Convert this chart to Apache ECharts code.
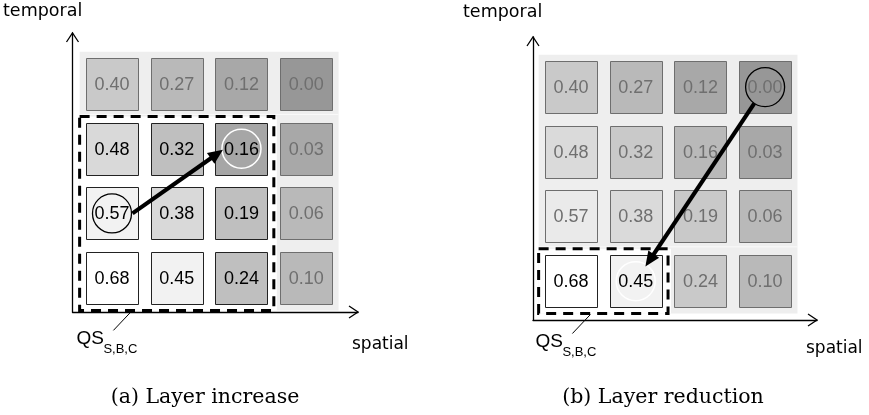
<!DOCTYPE html>
<html>
<head>
<meta charset="utf-8">
<script src="https://cdn.jsdelivr.net/npm/echarts@6/dist/echarts.min.js"></script>
<style>
  html, body { margin: 0; padding: 0; background: #fff; }
  #chart { width: 869px; height: 415px; }
</style>
</head>
<body>
<div id="chart"></div>
<script>
// QS values, row 0 = bottom row (lowest temporal layer), col 0 = leftmost (lowest spatial layer)
var qsRow0 = [0.68, 0.45, 0.24, 0.10];
var qsRow1 = [0.57, 0.38, 0.19, 0.06];
var qsRow2 = [0.48, 0.32, 0.16, 0.03];
var qsRow3 = [0.40, 0.27, 0.12, 0.00];
var qsGrid = [qsRow0, qsRow1, qsRow2, qsRow3];

// the selected (active) block of each panel: number of columns / rows from the origin
var activeA = [3, 3];
var activeB = [2, 1];
// arrow: from cell -> to cell  [col, row]
var moveA = [[0, 1], [2, 2]];
var moveB = [[3, 3], [1, 0]];

var axisTitleY = 'temporal';
var axisTitleX = 'spatial';
var captions = ['(a) Layer increase', '(b) Layer reduction'];

// grey shading (style only): level index per cell, same layout as qsGrid
var shadeLevels = [255, 242, 217, 191, 166, 140, 115];
var shadeIndex = [
    [0, 1, 3, 4],
    [1, 2, 3, 4],
    [2, 3, 4, 5],
    [3, 4, 5, 6]
];

var cellData = [];
qsGrid.forEach(function (row, r) {
    row.forEach(function (v, c) {
        cellData.push([c, r, v]);
    });
});

function grey(g) {
    g = Math.round(g);
    return 'rgb(' + g + ',' + g + ',' + g + ')';
}

var panels = [
    { active: activeA, move: moveA, arrowMode: 'side',   xr: [-0.61, 3.80], yr: [-0.525, 3.79] },
    { active: activeB, move: moveB, arrowMode: 'center', xr: [-0.587, 3.802], yr: [-0.60, 3.774] }
];

function cellRender(panel) {
    return function (params, api) {
        var c = api.value(0), r = api.value(1), v = api.value(2);
        var p = api.coord([c, r]);
        var s = api.size([1, 1]);
        var w = s[0] * 0.805, h = s[1] * 0.805;
        var on = c < panel.active[0] && r < panel.active[1];
        var g = shadeLevels[shadeIndex[r][c]];
        var fill = on ? grey(g) : grey(0.65 * g + 0.35 * 219);
        return {
            type: 'group',
            children: [
                {
                    type: 'rect',
                    shape: { x: Math.round(p[0] - w / 2) + 0.5, y: Math.round(p[1] - h / 2) + 0.5, width: Math.round(w), height: Math.round(h) },
                    style: { fill: fill, stroke: on ? '#222' : '#6e6e6e', lineWidth: 1 }
                },
                {
                    type: 'text',
                    style: {
                        text: v.toFixed(2), x: p[0], y: p[1] + 1,
                        align: 'center', verticalAlign: 'middle',
                        font: '18px "Liberation Sans", Arial, sans-serif',
                        fill: on ? '#000' : '#6f6f6f'
                    }
                }
            ]
        };
    };
}

function backRender(panel) {
    return function (params, api) {
        var a = api.coord([-0.5, 3.5]);
        var b = api.coord([3.5, -0.5]);
        var w1 = api.coord([-0.5, panel.active[1] - 0.5]);
        var w2 = api.coord([panel.active[0] - 0.5, -0.5]);
        return {
            type: 'group',
            children: [
                { type: 'rect', shape: { x: a[0], y: a[1], width: b[0] - a[0], height: b[1] - a[1] }, style: { fill: '#eeeeee' } },
                { type: 'line', shape: { x1: a[0], y1: w1[1] - 2, x2: b[0], y2: w1[1] - 2 }, style: { stroke: '#fafafa', lineWidth: 1 } },
                { type: 'rect', shape: { x: w1[0], y: w1[1], width: w2[0] - w1[0] + 3, height: w2[1] - w1[1] }, style: { fill: '#ffffff' } }
            ]
        };
    };
}

function overRender(panel) {
    return function (params, api) {
        var kids = [];
        // dashed selection box
        var w1 = api.coord([-0.5, panel.active[1] - 0.5]);
        var w2 = api.coord([panel.active[0] - 0.5, -0.5]);
        kids.push({
            type: 'rect',
            shape: { x: w1[0], y: w1[1], width: w2[0] - w1[0], height: w2[1] - w1[1] },
            style: { fill: 'none', stroke: '#000', lineWidth: 3, lineDash: [10, 7] }
        });
        // rings + arrow
        var ra = 19.5;
        var A = api.coord(panel.move[0]);
        var B = api.coord(panel.move[1]);
        kids.push({ type: 'circle', shape: { cx: A[0], cy: A[1], r: ra }, style: { fill: 'none', stroke: '#000', lineWidth: 1.3 } });
        kids.push({ type: 'circle', shape: { cx: B[0], cy: B[1], r: ra }, style: { fill: 'none', stroke: '#fff', lineWidth: 1.5 } });
        var s, e;
        if (panel.arrowMode === 'side') {
            s = [A[0] + ra + 1, A[1]];
            e = [B[0] - ra + 1, B[1] + 1];
        } else {
            var dx = B[0] - A[0], dy = B[1] - A[1];
            var L = Math.sqrt(dx * dx + dy * dy);
            s = [A[0] + dx / L * ra, A[1] + dy / L * ra];
            e = [B[0] - dx / L * (ra - 2), B[1] - dy / L * (ra - 2)];
        }
        var ux = e[0] - s[0], uy = e[1] - s[1];
        var ul = Math.sqrt(ux * ux + uy * uy);
        ux /= ul; uy /= ul;
        var hl = 15, hw = 6.5;
        var base = [e[0] - ux * hl, e[1] - uy * hl];
        kids.push({ type: 'line', shape: { x1: s[0], y1: s[1], x2: base[0] + ux * 2, y2: base[1] + uy * 2 }, style: { stroke: '#000', lineWidth: 4.2 } });
        kids.push({
            type: 'polygon',
            shape: { points: [e, [base[0] - uy * hw, base[1] + ux * hw], [base[0] + uy * hw, base[1] - ux * hw]] },
            style: { fill: '#000' }
        });
        // axis arrow heads
        var tx = api.coord([panel.xr[1], panel.yr[0]]);
        var ty = api.coord([panel.xr[0], panel.yr[1]]);
        kids.push({ type: 'polyline', shape: { points: [[tx[0] - 9, tx[1] - 6], tx, [tx[0] - 9, tx[1] + 6]] }, style: { stroke: '#000', lineWidth: 1.3, fill: 'none' } });
        kids.push({ type: 'polyline', shape: { points: [[ty[0] - 6, ty[1] + 9], ty, [ty[0] + 6, ty[1] + 9]] }, style: { stroke: '#000', lineWidth: 1.3, fill: 'none' } });
        // QS label with leader
        var q = api.coord([0.3, -0.5]);
        kids.push({ type: 'line', shape: { x1: q[0], y1: q[1] + 1, x2: q[0] - 18, y2: q[1] + 20 }, style: { stroke: '#000', lineWidth: 1 } });
        kids.push({
            type: 'text',
            style: { text: 'QS', x: q[0] - 55, y: q[1] + 28, align: 'left', verticalAlign: 'middle', font: '19px "Liberation Sans", Arial, sans-serif', fill: '#000' }
        });
        kids.push({
            type: 'text',
            style: { text: 'S,B,C', x: q[0] - 28, y: q[1] + 39, align: 'left', verticalAlign: 'middle', font: '13px "Liberation Sans", Arial, sans-serif', fill: '#000' }
        });
        return { type: 'group', children: kids };
    };
}

var chart = echarts.init(document.getElementById('chart'), null, { renderer: 'canvas' });

var grids = [
    { left: 72.5, top: 33, width: 285.5, height: 279 },
    { left: 533, top: 37, width: 284, height: 283 }
];

function axisCfg(i, range) {
    return {
        type: 'value', gridIndex: i, min: range[0], max: range[1],
        axisLine: { show: true, onZero: false, lineStyle: { color: '#000', width: 1.3 } },
        axisTick: { show: false }, axisLabel: { show: false }, splitLine: { show: false }
    };
}

var series = [];
panels.forEach(function (panel, i) {
    series.push({ type: 'custom', xAxisIndex: i, yAxisIndex: i, z: 1, silent: true, clip: false, data: [[0, 0]], renderItem: backRender(panel) });
    series.push({ type: 'custom', xAxisIndex: i, yAxisIndex: i, z: 2, silent: true, clip: false, data: cellData, renderItem: cellRender(panel) });
    series.push({ type: 'custom', xAxisIndex: i, yAxisIndex: i, z: 3, silent: true, clip: false, data: [[0, 0]], renderItem: overRender(panel) });
});

var option = {
    animation: false,
    backgroundColor: '#ffffff',
    grid: grids,
    xAxis: [axisCfg(0, panels[0].xr), axisCfg(1, panels[1].xr)],
    yAxis: [axisCfg(0, panels[0].yr), axisCfg(1, panels[1].yr)],
    graphic: [
        { type: 'text', left: 3, top: 2, style: { text: axisTitleY, font: '17.5px "DejaVu Sans", sans-serif', fill: '#000' } },
        { type: 'text', left: 463, top: 3, style: { text: axisTitleY, font: '17.5px "DejaVu Sans", sans-serif', fill: '#000' } },
        { type: 'text', left: 352, top: 336, style: { text: axisTitleX, font: '17px "DejaVu Sans", sans-serif', fill: '#000' } },
        { type: 'text', left: 806, top: 340, style: { text: axisTitleX, font: '17px "DejaVu Sans", sans-serif', fill: '#000' } },
        { type: 'text', x: 205, y: 398, style: { text: captions[0], align: 'center', verticalAlign: 'middle', font: '20.5px "DejaVu Serif", serif', fill: '#000' } },
        { type: 'text', x: 663, y: 398, style: { text: captions[1], align: 'center', verticalAlign: 'middle', font: '20.5px "DejaVu Serif", serif', fill: '#000' } }
    ],
    series: series
};
chart.setOption(option);
</script>
</body>
</html>
